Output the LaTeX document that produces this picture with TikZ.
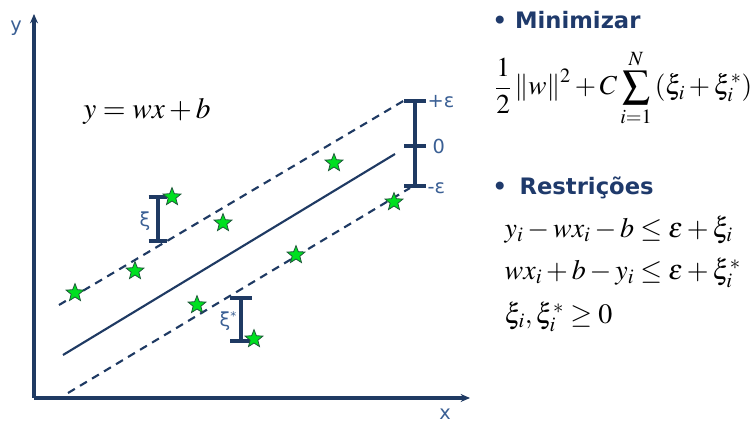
\documentclass[tikz,border=0pt]{standalone}
\usepackage{mathptmx}
\usepackage{fontspec}
\newfontfamily\headfont{DejaVu Sans}
\usetikzlibrary{shapes.geometric,arrows.meta}
\definecolor{navy}{HTML}{1F3A63}
\definecolor{headblue}{HTML}{1F3A6B}
\definecolor{lblue}{HTML}{3A5F94}
\definecolor{stargreen}{HTML}{00E020}
\definecolor{stardark}{HTML}{1E5A3A}
\tikzset{
  axisline/.style={navy,line width=2.7pt,-{Stealth[length=7pt,width=6pt]}},
  fitline/.style={navy,line width=1.6pt},
  marginline/.style={navy,line width=1.6pt,dash pattern=on 6pt off 4.5pt},
  errbar/.style={navy,line width=2.6pt},
  datastar/.style={star,star points=5,star point ratio=2.3,fill=stargreen,draw=stardark,line width=0.6pt,minimum size=14pt,inner sep=0pt},
  axlabel/.style={text=lblue,font=\headfont\fontsize{14.5}{16}\selectfont},
  heading/.style={text=headblue,font=\headfont\bfseries\fontsize{17}{20}\selectfont,anchor=west},
  eqn/.style={font=\fontsize{21}{25}\selectfont,anchor=west}
}
\begin{document}
\begin{tikzpicture}[x=0.75pt,y=-0.75pt]
\useasboundingbox (0,0) rectangle (753,423);
% axes
\coordinate (O) at (34,398);
\coordinate (ytop) at (34,14);
\coordinate (xend) at (470,398);
\draw[axisline] (O) -- (ytop);
\draw[axisline] (O) -- (xend);
\node[axlabel] (ylab) at (16,28) {y};
\node[axlabel] (xlab) at (445,414) {x};
% lines
\coordinate (u1) at (59,305); \coordinate (u2) at (405,100);
\coordinate (m1) at (63,355); \coordinate (m2) at (395,154);
\coordinate (l1) at (68,393); \coordinate (l2) at (410,188);
\draw[marginline] (u1) -- (u2);
\draw[fitline] (m1) -- (m2);
\draw[marginline] (l1) -- (l2);
% epsilon bar
\coordinate (et) at (415,101); \coordinate (em) at (415,146); \coordinate (eb) at (415,186);
\draw[errbar] (et) -- (eb);
\draw[errbar] ([xshift=-8]et) -- ([xshift=8]et);
\draw[errbar] ([xshift=-8]em) -- ([xshift=8]em);
\draw[errbar] ([xshift=-8]eb) -- ([xshift=8]eb);
\node[axlabel,anchor=west,inner sep=1pt] (pe) at (426,102) {+ε};
\node[axlabel,anchor=west,inner sep=1pt] (ze) at (431,146) {0};
\node[axlabel,anchor=west,inner sep=1pt] (me) at (426,188) {-ε};
% xi bar
\coordinate (xt) at (158,197); \coordinate (xb) at (158,241);
\draw[errbar] (xt) -- (xb);
\draw[errbar] ([xshift=-7]xt) -- ([xshift=7]xt);
\draw[errbar] ([xshift=-7]xb) -- ([xshift=7]xb);
\node[axlabel] (xil) at (145,221) {ξ};
% xi* bar
\coordinate (st) at (241,298); \coordinate (sb) at (241,341);
\draw[errbar] (st) -- (sb);
\draw[errbar] ([xshift=-8]st) -- ([xshift=8]st);
\draw[errbar] ([xshift=-8]sb) -- ([xshift=8]sb);
\node[axlabel] (xisl) at (228,321) {ξ\raisebox{0.35em}{\fontsize{9}{10}\selectfont *}};
% stars
\node[datastar] (s1) at (75,293) {};
\node[datastar] (s2) at (135,271) {};
\node[datastar] (s3) at (172,197) {};
\node[datastar] (s4) at (223,223) {};
\node[datastar] (s5) at (197,305) {};
\node[datastar] (s6) at (296,255) {};
\node[datastar] (s7) at (334,163) {};
\node[datastar] (s8) at (394,202) {};
\node[datastar] (s9) at (254,339) {};
% equation in plot
\node[font=\fontsize{22}{26}\selectfont] (line) at (147,111) {$y=wx+b$};
% right side
\node[heading] (h1) at (488,20) {•\hspace{0.35em}Minimizar};
\node[eqn,font=\fontsize{20.5}{25}\selectfont] (obj) at (490,88) {$\displaystyle \frac{1}{2}\left\|w\right\|^2+C\sum_{i=1}^{N}\left(\xi_i+\xi_i^*\right)$};
\node[heading] (h2) at (488,188) {•\hspace{0.55em}Restrições};
\node[eqn] (c1) at (500,230) {$y_i-wx_i-b\le\varepsilon+\xi_i$};
\node[eqn] (c2) at (500,273) {$wx_i+b-y_i\le\varepsilon+\xi_i^*$};
\node[eqn] (c3) at (500,317) {$\xi_i,\xi_i^*\ge 0$};
\end{tikzpicture}
\end{document}
